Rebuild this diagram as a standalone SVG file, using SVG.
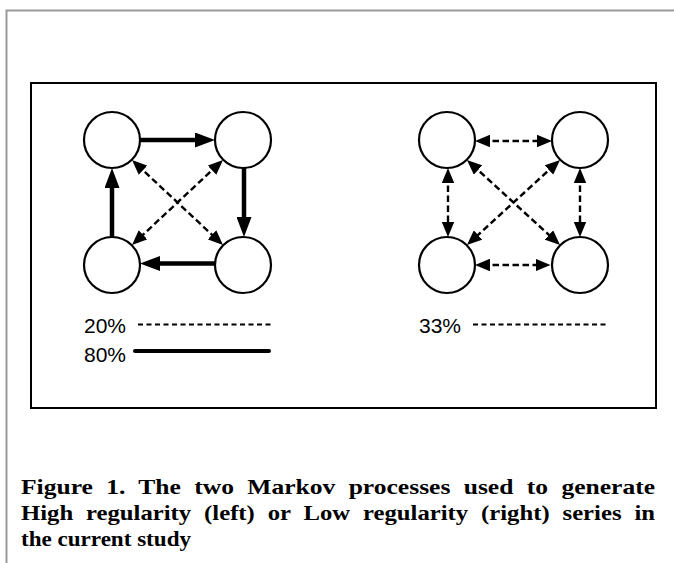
<svg xmlns="http://www.w3.org/2000/svg" width="674" height="563" viewBox="0 0 674 563">
  <style>
    .node { fill: #fff; stroke: #000; stroke-width: 2.2; }
    .solid { stroke: #000; stroke-width: 4.5; fill: none; }
    .dash { stroke: #000; stroke-width: 2.4; fill: none; stroke-dasharray: 6.5 3.5; }
    .legend { font-family: "Liberation Sans", Arial, sans-serif; font-size: 21px; fill: #000; }
    .caption { font-family: "Liberation Serif", "Times New Roman", serif; font-weight: bold; font-size: 22px; fill: #000; }
  </style>
  <defs>
    <marker id="headBig" markerUnits="userSpaceOnUse" markerWidth="20" markerHeight="15" refX="10" refY="7.5" orient="auto">
      <path d="M0,0 L20,7.5 L0,15 Z" fill="#000"/>
    </marker>
    <marker id="headSmall" markerUnits="userSpaceOnUse" markerWidth="15" markerHeight="12.5" refX="7.5" refY="6.25" orient="auto-start-reverse">
      <path d="M0,0 L15,6.25 L0,12.5 Z" fill="#000"/>
    </marker>
  </defs>

  <rect width="674" height="563" fill="#fff"/>
  <!-- page frame -->
  <path d="M6.5,563 V10.5 H674" fill="none" stroke="#999" stroke-width="2"/>
  <!-- figure box -->
  <rect x="31" y="83" width="625" height="325" fill="none" stroke="#000" stroke-width="2"/>

  <!-- high regularity process -->
  <g id="connectors-left">
    <line class="solid" x1="140" y1="140" x2="205" y2="140" marker-end="url(#headBig)"/>
    <line class="solid" x1="244" y1="168" x2="244" y2="227" marker-end="url(#headBig)"/>
    <line class="solid" x1="215" y1="263.5" x2="150" y2="263.5" marker-end="url(#headBig)"/>
    <line class="solid" x1="112" y1="237" x2="112" y2="178" marker-end="url(#headBig)"/>
    <line class="dash" x1="137.5" y1="165.1" x2="217.5" y2="239.9" marker-start="url(#headSmall)" marker-end="url(#headSmall)"/>
    <line class="dash" x1="217.5" y1="165.1" x2="137.5" y2="239.9" marker-start="url(#headSmall)" marker-end="url(#headSmall)"/>
  </g>
  <g id="left-tl"><circle class="node" cx="112" cy="140" r="28"/></g>
  <g id="left-tr"><circle class="node" cx="243" cy="140" r="28"/></g>
  <g id="left-bl"><circle class="node" cx="112" cy="265" r="28"/></g>
  <g id="left-br"><circle class="node" cx="243" cy="265" r="28"/></g>

  <!-- low regularity process -->
  <g id="connectors-right">
    <line class="dash" x1="482.5" y1="141" x2="544.5" y2="141" marker-start="url(#headSmall)" marker-end="url(#headSmall)"/>
    <line class="dash" x1="482.5" y1="265" x2="543" y2="265" marker-start="url(#headSmall)" marker-end="url(#headSmall)"/>
    <line class="dash" x1="448" y1="175.5" x2="448" y2="229.5" marker-start="url(#headSmall)" marker-end="url(#headSmall)"/>
    <line class="dash" x1="580" y1="175.5" x2="580" y2="229.5" marker-start="url(#headSmall)" marker-end="url(#headSmall)"/>
    <line class="dash" x1="472.5" y1="165" x2="554.5" y2="240" marker-start="url(#headSmall)" marker-end="url(#headSmall)"/>
    <line class="dash" x1="554.5" y1="165" x2="472.5" y2="240" marker-start="url(#headSmall)" marker-end="url(#headSmall)"/>
  </g>
  <g id="right-tl"><circle class="node" cx="447" cy="140" r="28"/></g>
  <g id="right-tr"><circle class="node" cx="580" cy="140" r="28"/></g>
  <g id="right-bl"><circle class="node" cx="447" cy="265" r="28"/></g>
  <g id="right-br"><circle class="node" cx="580" cy="265" r="28"/></g>

  <!-- legends -->
  <g id="legend-left">
    <text class="legend" x="84" y="333">20%</text>
    <line x1="138" y1="324.5" x2="272" y2="324.5" stroke="#000" stroke-width="2" stroke-dasharray="5 3.5"/>
    <text class="legend" x="84" y="362">80%</text>
    <line x1="135" y1="351" x2="269" y2="351" stroke="#000" stroke-width="4" stroke-linecap="round"/>
  </g>
  <g id="legend-right">
    <text class="legend" x="419" y="333">33%</text>
    <line x1="473" y1="324.5" x2="607" y2="324.5" stroke="#000" stroke-width="2" stroke-dasharray="5 3.5"/>
  </g>

  <!-- caption, justified lines -->
  <g id="caption">
    <text class="caption" x="21" y="494" textLength="634" lengthAdjust="spacingAndGlyphs" word-spacing="6">Figure 1. The two Markov processes used to generate</text>
    <text class="caption" x="21" y="520" textLength="634" lengthAdjust="spacingAndGlyphs" word-spacing="6">High regularity (left) or Low regularity (right) series in</text>
    <text class="caption" x="21" y="546" textLength="170" lengthAdjust="spacingAndGlyphs">the current study</text>
  </g>
</svg>
